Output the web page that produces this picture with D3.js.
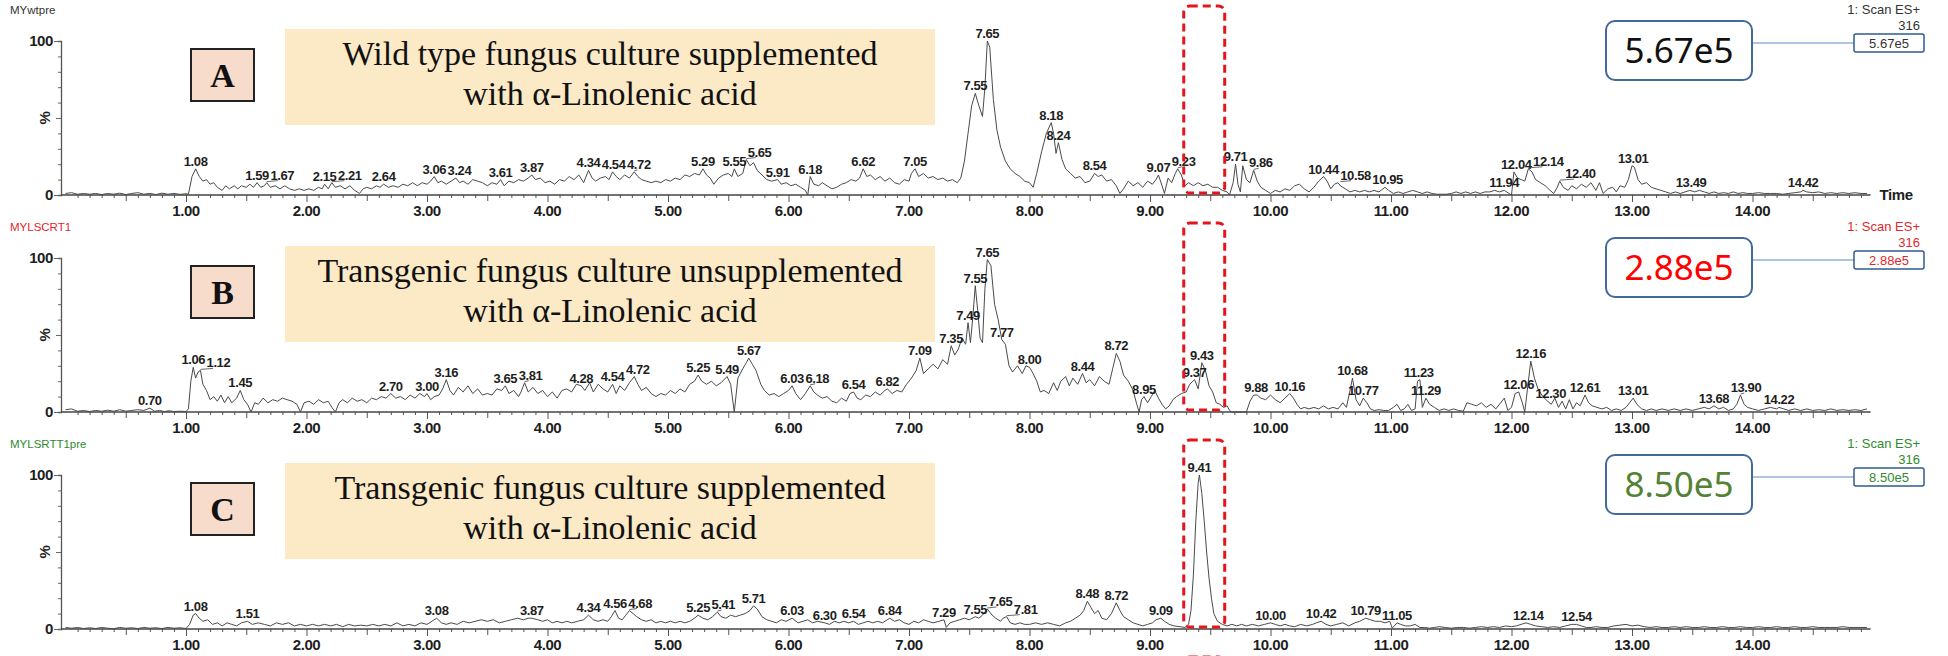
<!DOCTYPE html>
<html>
<head>
<meta charset="utf-8">
<script src="https://cdn.jsdelivr.net/npm/d3@7"></script>
<style>
  body { margin: 0; background: #fff; }
  svg { display: block; }
  text { font-family: "Liberation Sans", Arial, sans-serif; }
  .pk { font-size: 13px; font-weight: bold; fill: #1e1e1e; letter-spacing: -0.4px; }
  .tk { font-size: 15px; font-weight: bold; fill: #1e1e1e; letter-spacing: -0.4px; }
  .cap { font-family: "Liberation Serif", "Times New Roman", serif; font-size: 34px; fill: #111; }
</style>
</head>
<body>
<div id="canvas"></div>
<script>
// ---- data: [time (min), relative intensity (%)] ----
var traceA = [[0,1],[0.05,1.5],[0.1,0.5],[0.15,1],[0.2,0.5],[0.25,1],[0.3,0.3],[0.35,1],[0.4,0.5],[0.45,1.2],[0.5,0.3],[0.55,1],[0.6,1.5],[0.65,0.5],[0.7,1],[0.75,0.3],[0.8,1.2],[0.85,0.5],[0.9,1],[0.95,0.4],[1,0.8],[1.02,0.5],[1.05,12],[1.08,17],[1.11,12],[1.14,9],[1.17,10],[1.2,7],[1.23,8],[1.26,5],[1.3,3],[1.33,6],[1.36,4],[1.4,6],[1.43,4],[1.46,6],[1.5,5],[1.53,7],[1.56,5],[1.59,8],[1.62,5],[1.65,6],[1.67,8],[1.7,5],[1.74,6],[1.78,4],[1.82,6],[1.86,4],[1.9,3],[1.94,4],[1.98,3],[2.02,4],[2.06,3],[2.1,5],[2.13,4],[2.15,7],[2.18,4],[2.21,8],[2.24,5],[2.28,6],[2.32,4],[2.36,6],[2.4,3],[2.44,1],[2.47,4],[2.5,5],[2.54,4],[2.58,6],[2.61,5],[2.64,7],[2.68,5],[2.72,6],[2.76,5],[2.8,7],[2.84,6],[2.88,8],[2.92,6],[2.96,8],[3,7],[3.03,9],[3.06,12],[3.09,8],[3.12,9],[3.16,7],[3.2,9],[3.24,11],[3.27,8],[3.3,9],[3.34,7],[3.38,10],[3.42,9],[3.46,8],[3.5,6],[3.54,8],[3.58,7],[3.61,10],[3.64,6],[3.68,9],[3.72,8],[3.76,10],[3.8,9],[3.84,11],[3.87,13],[3.9,10],[3.94,11],[3.98,8],[4.02,9],[4.06,7],[4.1,10],[4.14,9],[4.18,12],[4.22,10],[4.26,13],[4.3,8],[4.34,16],[4.37,11],[4.4,9],[4.44,11],[4.48,12],[4.51,10],[4.54,15],[4.57,12],[4.6,10],[4.64,13],[4.68,11],[4.72,15],[4.75,12],[4.78,10],[4.82,9],[4.86,8],[4.9,9],[4.94,8],[4.98,10],[5.02,9],[5.06,11],[5.1,10],[5.14,13],[5.18,12],[5.22,14],[5.26,13],[5.29,17],[5.32,13],[5.35,11],[5.38,7],[5.42,11],[5.46,13],[5.5,14],[5.53,12],[5.55,17],[5.58,12],[5.62,14],[5.65,23],[5.68,19],[5.71,21],[5.74,16],[5.78,13],[5.82,10],[5.86,9],[5.91,10],[5.94,7],[5.98,8],[6.02,6],[6.06,7],[6.1,5],[6.14,3],[6.16,0],[6.18,12],[6.21,7],[6.25,6],[6.28,8],[6.32,6],[6.36,4],[6.4,5],[6.44,7],[6.48,8],[6.52,10],[6.56,9],[6.59,11],[6.62,17],[6.65,12],[6.68,13],[6.72,10],[6.76,12],[6.8,9],[6.84,11],[6.88,8],[6.92,7],[6.96,10],[7,9],[7.02,14],[7.05,17],[7.08,12],[7.12,14],[7.16,11],[7.2,12],[7.24,10],[7.28,11],[7.32,9],[7.36,10],[7.4,8],[7.43,11],[7.46,22],[7.49,40],[7.52,58],[7.55,66],[7.58,58],[7.61,51],[7.63,70],[7.65,100],[7.67,96],[7.7,62],[7.73,42],[7.76,31],[7.8,22],[7.84,17],[7.88,14],[7.92,12],[7.96,9],[8,8],[8.03,5],[8.06,14],[8.1,28],[8.14,40],[8.18,47],[8.2,40],[8.22,27],[8.24,34],[8.27,23],[8.3,17],[8.34,14],[8.38,11],[8.42,12],[8.46,8],[8.5,9],[8.54,14],[8.57,12],[8.6,13],[8.64,9],[8.68,10],[8.72,6],[8.75,1],[8.78,4],[8.82,9],[8.86,6],[8.9,8],[8.94,5],[8.98,9],[9.02,7],[9.05,10],[9.07,13],[9.1,6],[9.12,1],[9.15,11],[9.18,8],[9.21,14],[9.23,17],[9.26,13],[9.29,6],[9.32,8],[9.36,6],[9.4,8],[9.44,6],[9.48,7],[9.52,5],[9.56,5],[9.6,3],[9.64,2],[9.66,0],[9.69,8],[9.71,20],[9.73,7],[9.75,2],[9.77,19],[9.8,10],[9.83,8],[9.86,16],[9.89,9],[9.92,5],[9.96,3],[10,1],[10.04,3],[10.08,2],[10.12,4],[10.16,3],[10.2,6],[10.24,7],[10.28,4],[10.32,2],[10.36,5],[10.4,9],[10.44,12],[10.47,9],[10.5,4],[10.53,7],[10.56,8],[10.58,6],[10.62,4],[10.66,2],[10.7,3],[10.74,2],[10.78,3],[10.82,2],[10.86,3],[10.9,2],[10.95,5],[10.98,3],[11.02,1],[11.06,2],[11.1,1],[11.14,2],[11.18,3],[11.22,2],[11.26,1],[11.3,2],[11.34,1],[11.38,0.5],[11.42,0.5],[11.46,0.5],[11.5,1],[11.54,2],[11.58,1],[11.62,2],[11.66,1],[11.7,2],[11.74,1],[11.78,2],[11.82,2],[11.86,3],[11.9,2],[11.94,3],[11.98,1],[12,0],[12.02,15],[12.05,11],[12.08,10],[12.11,9],[12.14,17],[12.17,15],[12.2,10],[12.24,8],[12.28,6],[12.32,3],[12.35,1],[12.38,5],[12.4,9],[12.43,5],[12.47,3],[12.5,6],[12.54,4],[12.58,7],[12.62,5],[12.66,8],[12.7,3],[12.73,8],[12.76,1],[12.8,4],[12.84,5],[12.87,2],[12.9,6],[12.94,5],[12.97,10],[13,19],[13.02,18],[13.05,10],[13.08,7],[13.12,8],[13.16,5],[13.2,4],[13.24,3],[13.28,2],[13.32,1],[13.36,2],[13.4,1],[13.44,2],[13.48,3],[13.52,2],[13.56,3],[13.6,2],[13.64,1],[13.68,2],[13.72,1],[13.76,1.5],[13.8,1],[13.84,2],[13.88,1],[13.92,1.5],[13.96,1],[14,1],[14.05,1.5],[14.1,1],[14.15,1],[14.2,1],[14.25,0.5],[14.3,1],[14.35,1.5],[14.4,2],[14.42,3],[14.45,2],[14.5,1.5],[14.55,2],[14.6,1],[14.65,1.5],[14.7,1],[14.75,1.5],[14.8,1],[14.85,1.5],[14.9,1],[14.95,1]];

var traceB = [[0,1.5],[0.05,2],[0.1,0.5],[0.15,1],[0.2,0.3],[0.25,1],[0.3,0.5],[0.35,1.2],[0.4,0.5],[0.45,1.5],[0.5,0.5],[0.55,1],[0.6,1.5],[0.65,1],[0.7,2.5],[0.74,0.5],[0.78,1],[0.82,0.3],[0.86,0.8],[0.9,0.3],[0.95,0.5],[1,0.3],[1.02,2],[1.04,20],[1.06,29],[1.08,22],[1.1,26],[1.12,27],[1.14,18],[1.17,14],[1.2,8],[1.23,10],[1.26,7],[1.29,11],[1.32,6],[1.35,10],[1.38,6],[1.42,9],[1.45,14],[1.48,8],[1.51,5],[1.54,0],[1.57,6],[1.6,5],[1.64,9],[1.68,6],[1.72,8],[1.76,7],[1.8,9],[1.84,8],[1.88,7],[1.92,5],[1.95,0],[1.98,6],[2.02,7],[2.06,5],[2.1,8],[2.14,6],[2.18,7],[2.21,3],[2.24,0],[2.27,6],[2.3,8],[2.34,6],[2.38,9],[2.42,7],[2.46,8],[2.5,6],[2.54,9],[2.58,8],[2.62,10],[2.66,9],[2.7,12],[2.74,9],[2.78,10],[2.82,8],[2.86,11],[2.9,9],[2.94,12],[2.98,10],[3,12],[3.03,8],[3.06,10],[3.1,11],[3.13,15],[3.16,21],[3.19,14],[3.22,11],[3.26,16],[3.3,13],[3.34,17],[3.38,12],[3.42,15],[3.46,11],[3.5,12],[3.54,11],[3.58,15],[3.62,14],[3.65,17],[3.68,12],[3.72,14],[3.76,10],[3.78,13],[3.81,19],[3.84,13],[3.88,16],[3.92,12],[3.96,14],[4,10],[4.04,13],[4.08,9],[4.12,14],[4.16,15],[4.2,13],[4.24,18],[4.28,17],[4.31,14],[4.35,19],[4.38,13],[4.42,18],[4.46,15],[4.5,13],[4.54,18],[4.57,12],[4.6,17],[4.64,14],[4.68,19],[4.72,23],[4.75,18],[4.78,14],[4.82,16],[4.86,12],[4.9,10],[4.94,12],[4.98,11],[5.02,14],[5.06,12],[5.1,15],[5.14,13],[5.18,18],[5.22,20],[5.25,24],[5.28,20],[5.32,18],[5.36,20],[5.4,17],[5.44,19],[5.49,23],[5.52,18],[5.55,0],[5.58,22],[5.62,28],[5.65,32],[5.67,35],[5.7,31],[5.73,27],[5.77,18],[5.8,14],[5.84,11],[5.88,12],[5.92,10],[5.96,12],[6,14],[6.03,17],[6.06,12],[6.1,8],[6.14,12],[6.18,17],[6.21,13],[6.24,11],[6.28,9],[6.32,10],[6.36,7],[6.4,6],[6.44,9],[6.48,7],[6.51,12],[6.54,13],[6.57,9],[6.6,8],[6.64,11],[6.68,10],[6.72,13],[6.76,11],[6.8,14],[6.82,15],[6.86,12],[6.9,14],[6.94,13],[6.98,18],[7.02,22],[7.06,27],[7.09,35],[7.12,25],[7.16,28],[7.2,31],[7.24,28],[7.28,34],[7.32,31],[7.35,43],[7.38,37],[7.41,41],[7.44,48],[7.47,44],[7.49,58],[7.51,45],[7.53,62],[7.55,82],[7.57,66],[7.59,48],[7.61,45],[7.63,80],[7.65,99],[7.68,95],[7.71,70],[7.74,60],[7.77,47],[7.8,44],[7.83,30],[7.86,26],[7.9,30],[7.94,25],[7.97,30],[8,29],[8.03,25],[8.06,20],[8.09,13],[8.12,14],[8.16,12],[8.2,19],[8.23,14],[8.26,20],[8.3,23],[8.33,17],[8.36,22],[8.4,18],[8.44,25],[8.47,19],[8.5,21],[8.54,17],[8.58,23],[8.62,20],[8.66,18],[8.69,28],[8.72,38],[8.75,33],[8.78,24],[8.82,20],[8.86,14],[8.89,5],[8.91,0],[8.93,8],[8.95,10],[8.98,6],[9.01,10],[9.04,14],[9.07,9],[9.1,5],[9.13,2],[9.16,4],[9.19,8],[9.22,10],[9.26,12],[9.3,13],[9.33,18],[9.37,21],[9.4,15],[9.43,32],[9.46,27],[9.49,17],[9.52,13],[9.55,6],[9.58,5],[9.61,3],[9.64,4],[9.66,1],[9.68,0],[9.8,0],[9.83,7],[9.86,11],[9.89,11],[9.92,9],[9.96,8],[10,11],[10.04,8],[10.08,6],[10.12,9],[10.16,12],[10.19,9],[10.22,5],[10.25,2],[10.28,3],[10.32,2],[10.36,3],[10.4,2],[10.44,4],[10.48,2],[10.52,3],[10.56,2],[10.6,6],[10.63,3],[10.66,14],[10.68,22],[10.71,8],[10.74,4],[10.77,9],[10.8,6],[10.83,2],[10.86,1],[10.9,1.5],[10.94,1],[10.98,1],[11.02,3],[11.05,5],[11.08,1],[11.11,2],[11.14,5],[11.17,1],[11.2,2],[11.22,20],[11.24,21],[11.26,3],[11.29,9],[11.32,5],[11.36,3],[11.4,1],[11.44,2],[11.48,1],[11.52,2],[11.56,1],[11.6,0.5],[11.63,6],[11.67,5],[11.71,4],[11.75,6],[11.79,3],[11.83,5],[11.87,2],[11.91,6],[11.94,9],[11.97,1],[12,3],[12.03,12],[12.06,13],[12.09,6],[12.11,0],[12.14,20],[12.16,33],[12.19,22],[12.22,15],[12.26,10],[12.3,7],[12.33,5],[12.36,9],[12.39,3],[12.42,7],[12.45,2],[12.48,8],[12.51,2],[12.54,6],[12.57,4],[12.61,11],[12.64,6],[12.67,4],[12.71,3],[12.75,2],[12.79,3],[12.83,1],[12.87,2],[12.91,1],[12.95,3],[12.98,6],[13.01,9],[13.04,5],[13.08,2],[13.12,1],[13.16,2],[13.2,1],[13.25,2],[13.3,1],[13.35,2],[13.4,1],[13.45,2],[13.5,1],[13.55,2],[13.6,3],[13.64,2],[13.68,4],[13.72,2],[13.76,3],[13.8,1],[13.84,2],[13.87,5],[13.9,11],[13.93,5],[13.96,3],[14,2],[14.05,1],[14.1,2],[14.15,3],[14.2,2],[14.22,3],[14.26,2],[14.3,1],[14.35,2],[14.4,1],[14.45,2],[14.5,1],[14.55,1.5],[14.6,1],[14.65,2],[14.7,1],[14.75,1.5],[14.8,1],[14.85,1.5],[14.9,1],[14.95,2]];

var traceC = [[0,1],[0.05,0.5],[0.1,1],[0.15,0.3],[0.2,0.8],[0.25,0.3],[0.3,1],[0.35,0.5],[0.4,0.2],[0.45,1],[0.5,0.5],[0.55,0.8],[0.6,0.3],[0.65,1],[0.7,0.5],[0.75,0.8],[0.8,0.3],[0.85,1],[0.9,0.5],[0.95,0.8],[1,0.3],[1.03,3],[1.06,9],[1.08,10],[1.11,7],[1.14,5],[1.18,6],[1.22,3],[1.26,4],[1.3,2],[1.34,4],[1.38,3],[1.42,2],[1.46,4],[1.51,5],[1.55,3],[1.6,4],[1.65,3],[1.7,2],[1.75,4],[1.8,3],[1.85,4],[1.9,2],[1.95,3],[2,2],[2.05,3],[2.1,2],[2.15,3],[2.2,2],[2.25,3],[2.3,1.5],[2.35,3],[2.4,2],[2.45,2.5],[2.5,2],[2.55,3],[2.6,2],[2.65,3],[2.7,2],[2.75,4],[2.8,2],[2.85,3],[2.9,2],[2.95,4],[3,3],[3.04,5],[3.08,7],[3.12,4],[3.16,3],[3.2,4],[3.25,3],[3.3,5],[3.35,4],[3.4,5],[3.45,6],[3.5,5],[3.55,6],[3.6,4],[3.65,5],[3.7,6],[3.75,7],[3.8,6],[3.84,7],[3.87,7],[3.92,6],[3.96,5],[4,6],[4.04,4],[4.08,5],[4.12,4],[4.16,5],[4.2,4],[4.25,5],[4.3,6],[4.34,9],[4.38,6],[4.42,5],[4.46,6],[4.5,5],[4.53,8],[4.56,12],[4.59,7],[4.62,6],[4.65,9],[4.68,12],[4.71,10],[4.74,8],[4.78,6],[4.82,5],[4.86,6],[4.9,4],[4.94,5],[4.98,4],[5.02,5],[5.06,4],[5.1,5],[5.14,4],[5.18,5],[5.22,7],[5.25,9],[5.29,7],[5.33,6],[5.37,8],[5.41,11],[5.44,8],[5.48,7],[5.52,9],[5.56,8],[5.6,9],[5.64,10],[5.68,12],[5.71,15],[5.74,13],[5.78,8],[5.82,6],[5.86,5],[5.9,4],[5.94,6],[5.98,5],[6.03,7],[6.08,4],[6.12,5],[6.16,6],[6.2,4],[6.24,5],[6.3,4],[6.34,3],[6.38,5],[6.42,4],[6.46,5],[6.5,4],[6.54,5],[6.58,3],[6.62,4],[6.66,5],[6.7,4],[6.74,5],[6.78,4],[6.84,7],[6.88,5],[6.92,6],[6.96,4],[7,3],[7.04,5],[7.08,4],[7.12,6],[7.16,5],[7.2,4],[7.25,5],[7.29,6],[7.31,1],[7.34,4],[7.38,5],[7.42,6],[7.46,7],[7.5,6],[7.55,8],[7.58,7],[7.61,9],[7.65,13],[7.69,9],[7.72,7],[7.76,5],[7.78,7],[7.81,8],[7.84,4],[7.88,3],[7.92,4],[7.96,3],[8,3],[8.05,4],[8.1,3],[8.15,4],[8.2,3],[8.25,2],[8.3,4],[8.34,5],[8.38,7],[8.42,9],[8.45,12],[8.48,18],[8.51,14],[8.54,10],[8.57,12],[8.6,7],[8.64,6],[8.68,10],[8.72,17],[8.75,12],[8.78,8],[8.82,6],[8.86,4],[8.9,3],[8.94,2],[8.98,3],[9.02,4],[9.05,6],[9.09,7],[9.12,5],[9.16,3],[9.2,2],[9.25,1.5],[9.29,1],[9.32,3],[9.34,12],[9.36,35],[9.38,70],[9.4,95],[9.41,100],[9.43,88],[9.45,70],[9.47,50],[9.49,33],[9.51,20],[9.53,10],[9.56,5],[9.6,3],[9.64,2],[9.68,3],[9.72,2],[9.76,3],[9.8,2],[9.85,3],[9.9,2],[9.95,3],[10,4],[10.04,3],[10.08,2],[10.12,3],[10.16,2],[10.2,1.5],[10.25,3],[10.3,2],[10.35,3],[10.38,4],[10.42,5],[10.46,3],[10.5,2],[10.55,3],[10.6,4],[10.65,2],[10.7,4],[10.74,5],[10.79,7],[10.83,6],[10.87,5],[10.91,5],[10.95,4],[10.99,5],[11.01,0.5],[11.05,4],[11.08,3],[11.12,2],[11.16,2],[11.2,3],[11.24,1],[11.28,1],[11.32,0.5],[11.36,1],[11.4,1.5],[11.45,1],[11.5,0.5],[11.55,1],[11.6,1],[11.65,0.5],[11.7,1],[11.75,1.5],[11.8,1],[11.85,1.5],[11.9,1],[11.95,2],[12,1.5],[12.04,2],[12.08,3],[12.12,4],[12.16,3],[12.2,2],[12.25,1.5],[12.3,1],[12.35,1.5],[12.4,1],[12.45,2],[12.5,3],[12.54,3],[12.58,2],[12.62,1],[12.66,1],[12.7,1.5],[12.75,1],[12.8,1],[12.85,2],[12.9,2.5],[12.95,3],[13,2],[13.05,2.5],[13.1,1.5],[13.15,1],[13.2,1.5],[13.25,1],[13.3,1],[13.35,1.5],[13.4,1],[13.45,1.5],[13.5,1],[13.55,1],[13.6,1.5],[13.65,1],[13.7,1],[13.75,1.5],[13.8,1],[13.85,1],[13.9,1.5],[13.95,1],[14,1],[14.05,1.5],[14.1,1],[14.15,1],[14.2,1.5],[14.25,1],[14.3,1],[14.35,1.5],[14.4,1],[14.45,1],[14.5,1.5],[14.55,1],[14.6,1],[14.65,1],[14.7,1],[14.75,1.5],[14.8,1],[14.85,1],[14.9,1],[14.95,1]];

// peak retention-time labels
var peaksA = ['1.08','1.59','1.67','2.15','2.21','2.64','3.06','3.24','3.61','3.87','4.34','4.54','4.72','5.29','5.55','5.65','5.91','6.18','6.62','7.05','7.55','7.65','8.18','8.24','8.54','9.07','9.23','9.71','9.86','10.44','10.58','10.95','11.94','12.04','12.14','12.40','13.01','13.49','14.42'];
var peaksB = ['0.70','1.06','1.12','1.45','2.70','3.00','3.16','3.65','3.81','4.28','4.54','4.72','5.25','5.49','5.67','6.03','6.18','6.54','6.82','7.09','7.35','7.49','7.55','7.65','7.77','8.00','8.44','8.72','8.95','9.37','9.43','9.88','10.16','10.68','10.77','11.23','11.29','12.06','12.16','12.30','12.61','13.01','13.68','13.90','14.22'];
var peaksC = ['1.08','1.51','3.08','3.87','4.34','4.56','4.68','5.25','5.41','5.71','6.03','6.30','6.54','6.84','7.29','7.55','7.65','7.81','8.48','8.72','9.09','9.41','10.00','10.42','10.79','11.05','12.14','12.54'];

var sampleNames = ['MYwtpre', 'MYLSCRT1', 'MYLSRTT1pre'];
var panelLetters = ['A', 'B', 'C'];
var captions = [
  ['Wild type fungus culture supplemented', 'with \u03b1-Linolenic acid'],
  ['Transgenic fungus culture unsupplemented', 'with \u03b1-Linolenic acid'],
  ['Transgenic fungus culture supplemented', 'with \u03b1-Linolenic acid']
];
var maxIntensity = ['5.67e5', '2.88e5', '8.50e5'];
var scanLabel = '1: Scan ES+';
var massLabel = '316';
var timeTicks = [1,2,3,4,5,6,7,8,9,10,11,12,13,14];
var highlightWindow = [9.28, 9.62];

// ---- layout ----
var W = 1948, H = 656;
var panelTop = [41, 258, 475],
    panelH = 154,
    axisX = 61;

var nameColor = ['#333333', '#e0282c', '#2e8b2e'];
var bigColor  = ['#111111', '#ff0000', '#548235'];

var svg = d3.select('#canvas')
    .append('svg')
    .attr('width', W)
    .attr('height', H);

svg.append('rect').attr('width', W).attr('height', H).attr('fill', '#fff');

var x = d3.scaleLinear().domain([0, 15]).range([65.5, 65.5 + 15 * 120.5]);
var xEnd = x(14.98);

var traces = [traceA, traceB, traceC];
var peaks = [peaksA, peaksB, peaksC];

function apexValue(tr, t) {
    var best = 0;
    tr.forEach(function(p) {
        if (Math.abs(p[0] - t) <= 0.021 && p[1] > best) best = p[1];
    });
    return best;
}

traces.forEach(function(tr, i) {
    var top = panelTop[i], base = top + panelH;
    var y = d3.scaleLinear().domain([0, 100]).range([base, top]);
    var g = svg.append('g').attr('class', 'panel');

    // sample name
    g.append('text')
        .attr('x', 10).attr('y', top - 27)
        .style('font-size', '11.5px')
        .style('fill', nameColor[i])
        .text(sampleNames[i]);

    // y axis
    var yAxis = d3.axisLeft(y)
        .tickValues(d3.range(0, 101, 10))
        .tickSize(3)
        .tickFormat('');
    var ya = g.append('g').attr('transform', 'translate(' + axisX + ',0)').call(yAxis);
    ya.select('.domain').attr('stroke', '#555').attr('stroke-width', 1.3);
    ya.selectAll('.tick line')
        .attr('stroke', '#666')
        .attr('x2', function(d) { return (d === 0 || d === 100) ? -7 : (d === 50 ? -5 : -3); });

    g.append('text').attr('class', 'tk')
        .attr('x', axisX - 8).attr('y', y(100) + 5)
        .attr('text-anchor', 'end').text('100');
    g.append('text').attr('class', 'tk')
        .attr('x', axisX - 8).attr('y', y(0) + 5)
        .attr('text-anchor', 'end').text('0');
    g.append('text').attr('class', 'tk')
        .attr('transform', 'translate(' + (axisX - 11) + ',' + y(50) + ') rotate(-90)')
        .attr('text-anchor', 'middle')
        .text('%');

    // x axis
    var xAxis = d3.axisBottom(x)
        .tickValues(d3.range(1, 150, 1).map(function(d) { return d / 10; }))
        .tickSize(3)
        .tickFormat('');
    var xa = g.append('g').attr('transform', 'translate(0,' + base + ')').call(xAxis);
    xa.select('.domain').remove();
    xa.selectAll('.tick line')
        .attr('stroke', '#555')
        .attr('y2', function(d) {
            var k = Math.round(d * 10);
            return k % 10 === 0 ? 7 : (k % 5 === 0 ? 6 : 3);
        });
    g.append('line')
        .attr('x1', axisX).attr('x2', xEnd)
        .attr('y1', base).attr('y2', base)
        .attr('stroke', '#444').attr('stroke-width', 1.3);

    g.selectAll('.tlab')
        .data(timeTicks)
        .enter().append('text')
        .attr('class', 'tk')
        .attr('x', function(d) { return x(d); })
        .attr('y', base + 21)
        .attr('text-anchor', 'middle')
        .text(function(d) { return d.toFixed(2); });

    if (i === 0) {
        g.append('text').attr('class', 'tk')
            .style('font-size', '15px')
            .attr('x', xEnd + 9).attr('y', base + 5)
            .text('Time');
    }

    // chromatogram
    var line = d3.line()
        .x(function(d) { return x(d[0]); })
        .y(function(d) { return y(d[1]); });
    g.append('path')
        .datum(tr)
        .attr('d', line)
        .attr('fill', 'none')
        .attr('stroke', '#4a4a4a')
        .attr('stroke-width', 1)
        .attr('stroke-linejoin', 'round');

    // peak labels: shift right a little, else lift, to avoid collisions
    var placed = [];
    peaks[i].forEach(function(lab) {
        var t = +lab;
        var px = x(t), py = y(apexValue(tr, t));
        var txt = g.append('text').attr('class', 'pk').attr('text-anchor', 'middle').text(lab);
        var w = txt.node().getComputedTextLength(), h = 13;
        var cx = px, bottom = py - 3;
        function hit(cx, bottom) {
            for (var k = 0; k < placed.length; k++) {
                var b = placed[k];
                if (cx - w / 2 < b.x1 + 1 && cx + w / 2 > b.x0 - 1 && bottom - h < b.y1 && bottom > b.y0) return b;
            }
            return null;
        }
        var guard = 0, b;
        while ((b = hit(cx, bottom)) && guard < 10) {
            var shift = b.x1 + 1.5 + w / 2 - cx;
            if (cx + shift - px <= 22) cx += shift;
            else { cx = px; bottom = b.y0 - 1; }
            guard++;
        }
        txt.attr('x', cx).attr('y', bottom);
        placed.push({x0: cx - w / 2, x1: cx + w / 2, y0: bottom - h + 2, y1: bottom + 2});
        if (Math.abs(cx - px) > 4 || py - 3 - bottom > 2) {
            g.append('line')
                .attr('x1', px).attr('y1', py - 1)
                .attr('x2', cx - (cx - px) * 0.3).attr('y2', bottom + 1)
                .attr('stroke', '#444').attr('stroke-width', 0.8);
        }
    });

    // caption box
    g.append('rect')
        .attr('x', 285).attr('y', top - 12)
        .attr('width', 650).attr('height', 96)
        .attr('fill', '#fce9c6');
    captions[i].forEach(function(s, j) {
        g.append('text').attr('class', 'cap')
            .attr('x', 610).attr('y', top + 24 + j * 40)
            .attr('text-anchor', 'middle')
            .text(s);
    });

    // panel letter
    g.append('rect')
        .attr('x', 191).attr('y', top + 8)
        .attr('width', 63).attr('height', 52)
        .attr('fill', '#f8dccb')
        .attr('stroke', '#222').attr('stroke-width', 2);
    g.append('text')
        .attr('x', 222.5).attr('y', top + 46)
        .attr('text-anchor', 'middle')
        .style('font-family', '"Liberation Serif", serif')
        .style('font-weight', 'bold')
        .style('font-size', '34px')
        .style('fill', '#111')
        .text(panelLetters[i]);

    // scan info, right side
    g.append('text')
        .attr('x', 1920).attr('y', top - 27)
        .attr('text-anchor', 'end')
        .style('font-size', '13px')
        .style('fill', nameColor[i])
        .text(scanLabel);
    g.append('text')
        .attr('x', 1920).attr('y', top - 11)
        .attr('text-anchor', 'end')
        .style('font-size', '13px')
        .style('fill', nameColor[i])
        .text(massLabel);

    var smallY = top - 7, bigY = top - 20;
    g.append('line')
        .attr('x1', 1752).attr('x2', 1854)
        .attr('y1', smallY + 9).attr('y2', smallY + 9)
        .attr('stroke', '#5b8ec6').attr('stroke-width', 1.2);
    g.append('rect')
        .attr('x', 1854).attr('y', smallY)
        .attr('width', 70).attr('height', 18)
        .attr('rx', 2)
        .attr('fill', '#fff')
        .attr('stroke', '#2f5b8f').attr('stroke-width', 1.5);
    g.append('text')
        .attr('x', 1889).attr('y', smallY + 14)
        .attr('text-anchor', 'middle')
        .style('font-size', '13px')
        .style('fill', nameColor[i])
        .text(maxIntensity[i]);

    g.append('rect')
        .attr('x', 1606).attr('y', bigY)
        .attr('width', 146).attr('height', 59)
        .attr('rx', 9)
        .attr('fill', '#fff')
        .attr('stroke', '#41699a').attr('stroke-width', 2);
    g.append('text')
        .attr('x', 1679).attr('y', bigY + 42)
        .attr('text-anchor', 'middle')
        .style('font-family', '"Noto Sans", "Open Sans", sans-serif')
        .style('font-size', '35px')
        .style('fill', bigColor[i])
        .text(maxIntensity[i]);
});

// red dashed window around the 9.4 min region
[0, 1, 2, 3].forEach(function(i) {
    var top = 41 + i * 217;
    svg.append('rect')
        .attr('x', x(highlightWindow[0]))
        .attr('y', top - 35)
        .attr('width', x(highlightWindow[1]) - x(highlightWindow[0]))
        .attr('height', panelH + 33)
        .attr('rx', 6)
        .attr('fill', 'none')
        .attr('stroke', '#e3161d')
        .attr('stroke-width', 3)
        .attr('stroke-dasharray', '8,5');
});
</script>
</body>
</html>
